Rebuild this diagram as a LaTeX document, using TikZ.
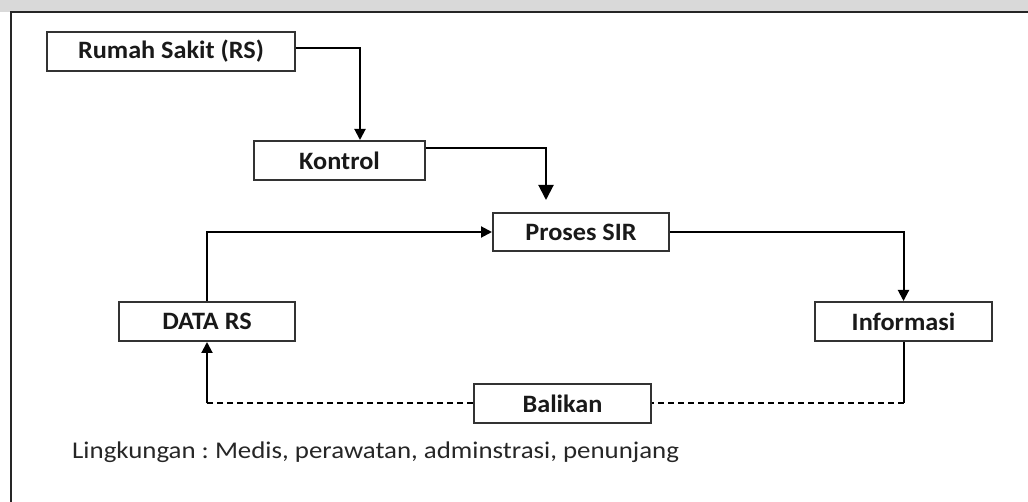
\documentclass[tikz,border=0pt]{standalone}
\usepackage{fontspec}
\setmainfont{Carlito}
\usetikzlibrary{arrows.meta,calc}
\newcommand{\wideR}[2]{\scalebox{#1}[1]{#2}}
\begin{document}
\begin{tikzpicture}[x=1pt,y=-1pt,
  box/.style={draw=black!80,line width=2pt,rectangle,inner sep=0pt,fill=white,
    font=\fontsize{25}{28}\selectfont\bfseries,text=black!90},
  conn/.style={line width=2pt,draw=black},
  fb/.style={conn,dashed,dash pattern=on 6pt off 4pt},
  tip/.style={-{Triangle[width=11pt,length=11pt]}},
  bigtip/.style={-{Triangle[width=15pt,length=15pt]}}]
\frenchspacing
\useasboundingbox (0,0) rectangle (1028,502);
\fill[black!15] (0,0) rectangle (1028,12);
\draw[line width=1.8pt,draw=black!85] (11,530) -- (11,12) -- (1040,12);
\node[box,minimum width=248pt,minimum height=39pt] (rs) at (171,51.5) {\wideR{1.05}{Rumah Sakit (RS)}};
\node[box,minimum width=171pt,minimum height=39pt] (kontrol) at (339.5,160.5) {\wideR{1.05}{Kontrol}};
\node[box,minimum width=176pt,minimum height=38pt] (proses) at (581,232) {\wideR{1.05}{Proses SIR}};
\node[box,minimum width=176pt,minimum height=39pt] (data) at (207,321.5) {\wideR{1.05}{DATA RS}};
\node[box,minimum width=177pt,minimum height=39pt] (info) at (903.5,321.5) {\wideR{1.05}{Informasi}};
\node[box,minimum width=177pt,minimum height=39pt] (balikan) at (562.5,403.5) {\wideR{1.05}{Balikan}};
\node[anchor=west,inner sep=0pt,font=\fontsize{24}{27}\selectfont,text=black!85] (ling) at (72,452) {\wideR{1.12}{Lingkungan : Medis, perawatan, adminstrasi, penunjang}};
\coordinate (cr) at (info.south |- balikan.east);
\coordinate (cl) at (data.south |- balikan.west);
\draw[conn,tip] ($(rs.east)+(0,-3.5)$) -| ($(kontrol.north)+(20.5,0)$);
\draw[conn,bigtip] ($(kontrol.east)+(0,-12.5)$) -| ($(proses.north)+(-35,-12)$);
\draw[conn,tip] (data.north) |- (proses.west);
\draw[conn,tip] (proses.east) -| (info.north);
\draw[conn] (info.south) -- (cr);
\draw[fb] (cr) -- (balikan.east);
\draw[fb] (balikan.west) -- (cl);
\draw[conn,tip] (cl) -- (data.south);
\end{tikzpicture}
\end{document}
